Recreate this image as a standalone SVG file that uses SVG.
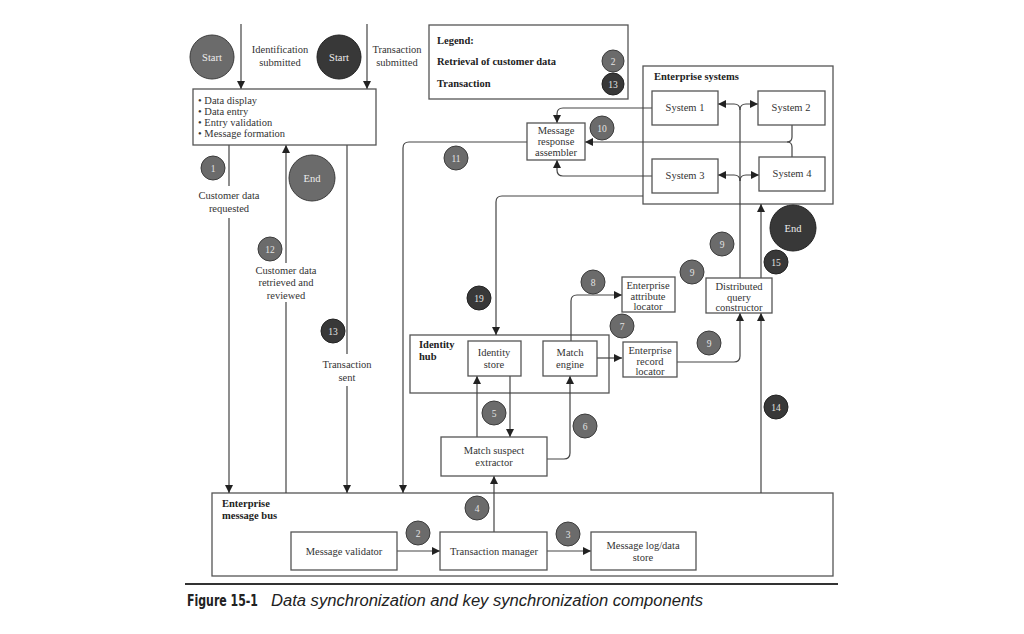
<svg xmlns="http://www.w3.org/2000/svg" width="1024" height="634" viewBox="0 0 1024 634">
<defs>
<style>
.box{fill:#fff;stroke:#555;stroke-width:1.3}
.cont{fill:none;stroke:#555;stroke-width:1.3}
.ln{fill:none;stroke:#444;stroke-width:1.2}
.t{font-family:"Liberation Serif",serif;font-size:10.5px;fill:#333;text-anchor:middle}
.l{text-anchor:start}
.b{font-weight:bold;fill:#222}
.g{fill:#6b6b6b;stroke:#3c3c3c;stroke-width:1}
.d{fill:#383838;stroke:#222;stroke-width:1}
.n{font-family:"Liberation Serif",serif;font-size:9.5px;fill:#e4e4e4;text-anchor:middle}
.s{font-family:"Liberation Serif",serif;font-size:10.5px;fill:#eee;text-anchor:middle}
</style>
<marker id="a" viewBox="0 0 10 10" refX="10" refY="5" markerWidth="9" markerHeight="8" orient="auto" markerUnits="userSpaceOnUse"><path d="M0,0 L10,5 L0,10 z" fill="#222"/></marker>
</defs>
<rect width="1024" height="634" fill="#fff"/>

<g id="enterprise-systems">
<rect class="cont" x="643" y="66" width="190" height="138"/>
<text class="t l b" x="654" y="80">Enterprise systems</text>
</g>
<g id="identity-hub">
<rect class="cont" x="410" y="335" width="199" height="58"/>
<text class="t l b" x="419" y="348">Identity</text>
<text class="t l b" x="419" y="360">hub</text>
</g>
<g id="bus">
<rect class="cont" x="212" y="493" width="621" height="83"/>
<text class="t l b" x="222" y="507">Enterprise</text>
<text class="t l b" x="222" y="519">message bus</text>
</g>

<g id="connectors">
<path class="ln" d="M241,24 V89" marker-end="url(#a)"/>
<path class="ln" d="M367,24 V89" marker-end="url(#a)"/>
<path class="ln" d="M229,145 V186"/>
<path class="ln" d="M229,218 V493" marker-end="url(#a)"/>
<path class="ln" d="M286,493 V302"/>
<path class="ln" d="M286,263 V145" marker-end="url(#a)"/>
<path class="ln" d="M347,145 V354"/>
<path class="ln" d="M347,386 V493" marker-end="url(#a)"/>
<path class="ln" d="M527,142 H409 Q403,142 403,148 V493" marker-end="url(#a)"/>
<path class="ln" d="M652,108 H563 Q557,108 557,114 V123" marker-end="url(#a)"/>
<path class="ln" d="M652,176 H563 Q557,176 557,170 V160" marker-end="url(#a)"/>
<path class="ln" d="M792,125 V137 Q792,142 787,142 H585" marker-end="url(#a)"/>
<path class="ln" d="M792,157 V147 Q792,142 787,142"/>
<path class="ln" d="M643,196 H502 Q496,196 496,202 V335" marker-end="url(#a)"/>
<path class="ln" d="M571,341 V301 Q571,295 577,295 H622" marker-end="url(#a)"/>
<path class="ln" d="M597,358 H622" marker-end="url(#a)"/>
<path class="ln" d="M677,362 H734 Q740,362 740,356 V313" marker-end="url(#a)"/>
<path class="ln" d="M740,278 V110"/>
<path class="ln" d="M740,110 Q740,104 734,104 H718" marker-end="url(#a)"/>
<path class="ln" d="M740,110 Q740,104 746,104 H758" marker-end="url(#a)"/>
<path class="ln" d="M740,181 Q740,175 734,175 H718" marker-end="url(#a)"/>
<path class="ln" d="M740,181 Q740,175 746,175 H759" marker-end="url(#a)"/>
<path class="ln" d="M761,278 V204" marker-end="url(#a)"/>
<path class="ln" d="M761,493 V313" marker-end="url(#a)"/>
<path class="ln" d="M477,437 V376" marker-end="url(#a)"/>
<path class="ln" d="M510,376 V437" marker-end="url(#a)"/>
<path class="ln" d="M547,459 H564 Q570,459 570,453 V376" marker-end="url(#a)"/>
<path class="ln" d="M494,532 V476" marker-end="url(#a)"/>
<path class="ln" d="M397,551 H440" marker-end="url(#a)"/>
<path class="ln" d="M547,551 H591" marker-end="url(#a)"/>
</g>

<g id="labels">
<text class="t" x="280" y="53">Identification</text>
<text class="t" x="280" y="66">submitted</text>
<text class="t" x="397" y="53">Transaction</text>
<text class="t" x="397" y="66">submitted</text>
<text class="t" x="229" y="199">Customer data</text>
<text class="t" x="229" y="212">requested</text>
<text class="t" x="286" y="274">Customer data</text>
<text class="t" x="286" y="286">retrieved and</text>
<text class="t" x="286" y="299">reviewed</text>
<text class="t" x="347" y="368">Transaction</text>
<text class="t" x="347" y="381">sent</text>
</g>

<g id="start1"><circle class="g" cx="212" cy="57" r="22"/><text class="s" x="212" y="61">Start</text></g>
<g id="start2"><circle class="d" cx="339" cy="57" r="22"/><text class="s" x="339" y="61">Start</text></g>
<g id="end1"><circle class="g" cx="312" cy="178" r="23"/><text class="s" x="312" y="182">End</text></g>
<g id="end2"><circle class="d" cx="793" cy="228" r="23"/><text class="s" x="793" y="232">End</text></g>

<g id="client">
<rect class="box" x="193" y="89" width="183" height="56"/>
<text class="t l" x="198" y="104">• Data display</text>
<text class="t l" x="198" y="115">• Data entry</text>
<text class="t l" x="198" y="126">• Entry validation</text>
<text class="t l" x="198" y="137">• Message formation</text>
</g>

<g id="legend">
<rect class="box" x="429" y="25" width="199" height="74"/>
<text class="t l b" x="437" y="44">Legend:</text>
<text class="t l b" x="437" y="65">Retrieval of customer data</text>
<text class="t l b" x="437" y="87">Transaction</text>
<circle class="g" cx="613" cy="61" r="11"/><text class="n" x="613" y="64.5">2</text>
<circle class="d" cx="613" cy="84" r="11"/><text class="n" x="613" y="87.5">13</text>
</g>

<g id="system1"><rect class="box" x="652" y="91" width="66" height="34"/><text class="t" x="685" y="111">System 1</text></g>
<g id="system2"><rect class="box" x="758" y="91" width="67" height="34"/><text class="t" x="791" y="111">System 2</text></g>
<g id="system3"><rect class="box" x="652" y="159" width="66" height="34"/><text class="t" x="685" y="179">System 3</text></g>
<g id="system4"><rect class="box" x="759" y="157" width="66" height="34"/><text class="t" x="792" y="177">System 4</text></g>

<g id="assembler">
<rect class="box" x="527" y="123" width="58" height="37"/>
<text class="t" x="556" y="134">Message</text>
<text class="t" x="556" y="145">response</text>
<text class="t" x="556" y="156">assembler</text>
</g>

<g id="identity-store"><rect class="box" x="468" y="341" width="53" height="35"/><text class="t" x="494" y="356">Identity</text><text class="t" x="494" y="368">store</text></g>
<g id="match-engine"><rect class="box" x="543" y="341" width="54" height="35"/><text class="t" x="570" y="356">Match</text><text class="t" x="570" y="368">engine</text></g>

<g id="attr-locator"><rect class="box" x="622" y="277" width="53" height="35"/><text class="t" x="648" y="289">Enterprise</text><text class="t" x="648" y="300">attribute</text><text class="t" x="648" y="310">locator</text></g>
<g id="record-locator"><rect class="box" x="623" y="342" width="54" height="35"/><text class="t" x="650" y="354">Enterprise</text><text class="t" x="650" y="365">record</text><text class="t" x="650" y="375">locator</text></g>
<g id="dqc"><rect class="box" x="706" y="278" width="66" height="35"/><text class="t" x="739" y="290">Distributed</text><text class="t" x="739" y="301">query</text><text class="t" x="739" y="311">constructor</text></g>

<g id="mse"><rect class="box" x="441" y="437" width="106" height="39"/><text class="t" x="494" y="454">Match suspect</text><text class="t" x="494" y="466">extractor</text></g>

<g id="validator"><rect class="box" x="291" y="532" width="106" height="38"/><text class="t" x="344" y="555">Message validator</text></g>
<g id="tm"><rect class="box" x="440" y="532" width="107" height="38"/><text class="t" x="494" y="555">Transaction manager</text></g>
<g id="log"><rect class="box" x="591" y="532" width="105" height="38"/><text class="t" x="643" y="549">Message log/data</text><text class="t" x="643" y="561">store</text></g>

<g id="steps">
<circle class="g" cx="213" cy="168" r="12"/><text class="n" x="213" y="171.5">1</text>
<circle class="g" cx="418" cy="533" r="12"/><text class="n" x="418" y="536.5">2</text>
<circle class="g" cx="568" cy="534" r="12"/><text class="n" x="568" y="537.5">3</text>
<circle class="g" cx="477" cy="508" r="12"/><text class="n" x="477" y="511.5">4</text>
<circle class="g" cx="494" cy="413" r="12"/><text class="n" x="494" y="416.5">5</text>
<circle class="g" cx="585" cy="426" r="12"/><text class="n" x="585" y="429.5">6</text>
<circle class="g" cx="622" cy="326" r="12"/><text class="n" x="622" y="329.5">7</text>
<circle class="g" cx="593" cy="282" r="12"/><text class="n" x="593" y="285.5">8</text>
<circle class="g" cx="722" cy="244" r="12"/><text class="n" x="722" y="247.5">9</text>
<circle class="g" cx="692" cy="272" r="12"/><text class="n" x="692" y="275.5">9</text>
<circle class="g" cx="709" cy="343" r="12"/><text class="n" x="709" y="346.5">9</text>
<circle class="g" cx="602" cy="128" r="12"/><text class="n" x="602" y="131.5">10</text>
<circle class="g" cx="456" cy="158" r="12"/><text class="n" x="456" y="161.5">11</text>
<circle class="g" cx="270" cy="249" r="12"/><text class="n" x="270" y="252.5">12</text>
<circle class="d" cx="333" cy="331" r="12"/><text class="n" x="333" y="334.5">13</text>
<circle class="d" cx="776" cy="407" r="12"/><text class="n" x="776" y="410.5">14</text>
<circle class="d" cx="776" cy="262" r="12"/><text class="n" x="776" y="265.5">15</text>
<circle class="d" cx="479" cy="298" r="12"/><text class="n" x="479" y="301.5">19</text>
</g>

<g id="caption">
<line x1="185" y1="584" x2="838" y2="584" stroke="#333" stroke-width="2"/>
<text x="187" y="606" font-family="'DejaVu Sans Condensed','Liberation Sans',sans-serif" font-weight="bold" font-size="15" fill="#222" textLength="71" lengthAdjust="spacingAndGlyphs">Figure 15-1</text>
<text x="271" y="606" font-family="'Liberation Sans',sans-serif" font-style="italic" font-size="16" fill="#222" textLength="432" lengthAdjust="spacingAndGlyphs">Data synchronization and key synchronization components</text>
</g>
</svg>
